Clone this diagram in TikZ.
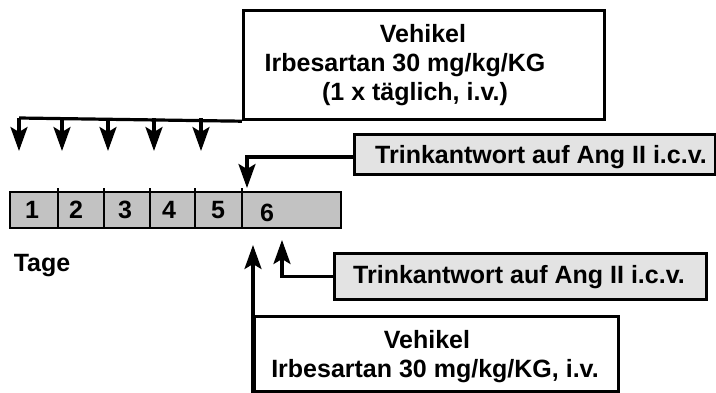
\documentclass[tikz,border=0pt]{standalone}
\usepackage{fontspec}
\setmainfont{Liberation Sans}
\usetikzlibrary{arrows.meta}
\begin{document}
\begin{tikzpicture}[x=1pt,y=-1pt,
  line width=3.2pt,
  arr/.style={-{Stealth[length=24pt,width=17pt,inset=5pt]}},
  lbl/.style={font=\fontsize{25}{29}\selectfont\bfseries, inner sep=0pt, anchor=base},
  box/.style={draw, line width=3.2pt, inner sep=0pt, anchor=north west},
  graybox/.style={box, fill=gray!22},
  barbox/.style={draw, line width=1.8pt, fill=gray!48, inner sep=0pt, anchor=north west},
  divider/.style={line width=2.4pt},
]
\useasboundingbox (0,0) rectangle (716,392);

% top box
\node[box, minimum width=361pt, minimum height=109pt] (top) at (242,9) {};
\node[lbl] (t1) at (423,42) {Vehikel};
\node[lbl] (t2) at (405,71) {Irbesartan 30 mg/kg/KG};
\node[lbl] (t3) at (415,100) {(1 x täglich, i.v.)};

% horizontal distribution line and daily arrows
\coordinate (h1) at (19,118);
\coordinate (h2) at (62,118);
\coordinate (h3) at (108,118);
\coordinate (h4) at (154,118);
\coordinate (h5) at (201,118);
\coordinate (a1) at (19,151);
\coordinate (a2) at (62,151);
\coordinate (a3) at (108,151);
\coordinate (a4) at (154,151);
\coordinate (a5) at (201,151);
\draw (top.south west) -- (h1);
\foreach \i in {1,...,5} { \draw[arr] (h\i) -- (a\i); }

% first drinking response box
\node[graybox, minimum width=361pt, minimum height=40pt] (tr1) at (353,133) {};
\node[lbl] (tr1t) at (541,163) {Trinkantwort auf Ang II i.c.v.};
\coordinate (tr1a) at (353,157);
\coordinate (tr1tip) at (247,188);
\draw[arr] (tr1a) -| (tr1tip);

% day bar
\node[barbox, minimum width=331pt, minimum height=36pt] (bar) at (9,191) {};
\foreach \x in {58,104,150,195,242} { \draw[divider] (\x,188) -- (\x,229); }
\node[lbl] (d1) at (32,218) {1};
\node[lbl] (d2) at (76,218) {2};
\node[lbl] (d3) at (125,218) {3};
\node[lbl] (d4) at (169,218) {4};
\node[lbl] (d5) at (218,218) {5};
\node[lbl] (d6) at (267,221) {6};
\node[lbl] (tage) at (42,271) {Tage};

% second drinking response box
\node[graybox, minimum width=372pt, minimum height=46pt] (tr2) at (333,252) {};
\node[lbl] (tr2t) at (519,283) {Trinkantwort auf Ang II i.c.v.};
\coordinate (tr2tip) at (282,240);
\draw[arr] (tr2.west) -| (tr2tip);

% bottom box
\node[box, minimum width=364pt, minimum height=75pt] (bot) at (253,315) {};
\node[lbl] (b1) at (427,348) {Vehikel};
\node[lbl] (b2) at (435,377) {Irbesartan 30 mg/kg/KG, i.v.};
\coordinate (bottip) at (253,245);
\draw[arr] (bot.south west) -- (bottip);
\end{tikzpicture}
\end{document}
